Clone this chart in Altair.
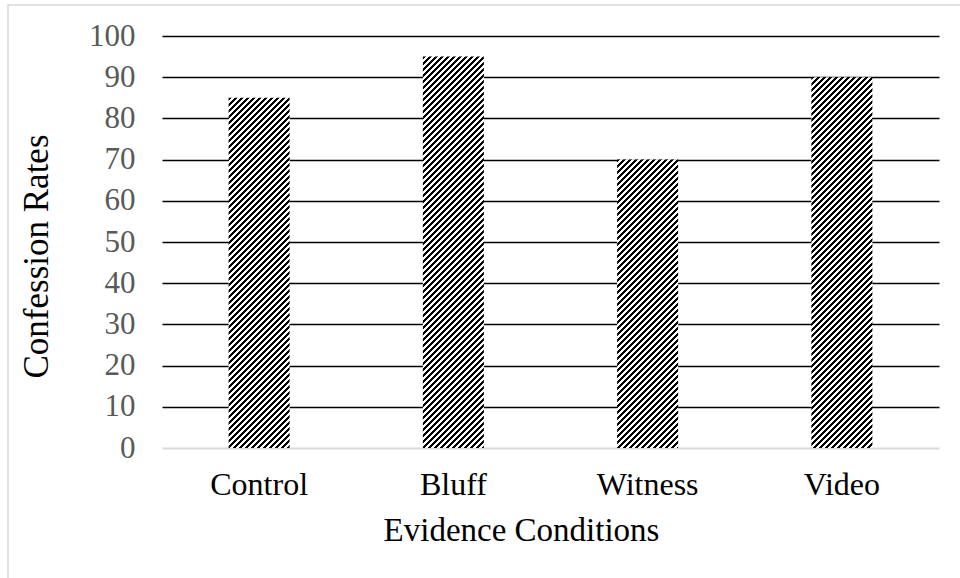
import math
import altair as alt
import pandas as pd

# ---- data ----
categories = ["Control", "Bluff", "Witness", "Video"]
rates = [85, 95, 70, 90]
y_ticks = [0, 10, 20, 30, 40, 50, 60, 70, 80, 90, 100]

# ---- layout ----
W, H = 777, 412
PAD_L, PAD_T = 162, 36
INNER = 0.686
STEP = W / len(categories)
BAR_W = STEP * (1 - INNER)
FONT = "Liberation Serif"

df = pd.DataFrame({"cond": categories, "rate": rates})


def hatch(value, period=6):
    """Diagonal black/white stripes as a hard-stop linear gradient
    with an exact (integer pixel) horizontal period."""
    w = BAR_W
    h = value / 100.0 * H
    n = math.ceil((w + h) / period)
    L = n * period
    s = w * w + h * h
    x2 = w * L / s
    y2 = h * L / s
    stops = []
    for i in range(n):
        a = i / n
        b = (i + 0.5) / n
        c = (i + 1) / n
        stops += [
            {"offset": a, "color": "black"},
            {"offset": b, "color": "black"},
            {"offset": b, "color": "white"},
            {"offset": c, "color": "white"},
        ]
    return {"gradient": "linear", "x1": 0, "y1": 0, "x2": x2, "y2": y2, "stops": stops}


x_enc = alt.X(
    "cond:N",
    sort=categories,
    scale=alt.Scale(domain=categories, paddingInner=INNER, paddingOuter=INNER / 2),
    axis=alt.Axis(
        title="Evidence Conditions",
        domain=False,
        ticks=False,
        grid=False,
        labelAngle=0,
        labelPadding=21,
        labelColor="black",
        labelFontSize=32,
        titleFontSize=33,
        titleX=359,
        titleY=82,
        titleBaseline="middle",
    ),
)
y_enc = alt.Y(
    "rate:Q",
    scale=alt.Scale(domain=[0, 100], nice=False),
    axis=alt.Axis(
        title="Confession Rates",
        values=y_ticks,
        domain=False,
        ticks=False,
        labelPadding=27,
        labelColor="#595959",
        labelFontSize=31,
        titleFontSize=35,
        grid=True,
        gridColor={"condition": {"test": "datum.value === 0", "value": "#d9d9d9"}, "value": "black"},
        gridWidth={"condition": {"test": "datum.value === 0", "value": 2}, "value": 1.6},
        titleX=-126,
        titleY=220,
        titleBaseline="middle",
        titleAngle=-90,
    ),
)

frame = alt.Chart(pd.DataFrame({"a": [0]})).mark_rect(
    fillOpacity=0, stroke="#d9d9d9", strokeWidth=1.5
).encode(
    x=alt.value(8 - PAD_L),
    x2=alt.value(W + 80),
    y=alt.value(5 - PAD_T),
    y2=alt.value(H + 200),
)

layers = [frame]
for cat, val in zip(categories, rates):
    layers.append(
        alt.Chart(df)
        .transform_filter(alt.datum.cond == cat)
        .mark_bar(fill=hatch(val), stroke=None)
        .encode(x=x_enc, y=y_enc)
    )

chart = (
    alt.layer(*layers)
    .properties(
        width=W,
        height=H,
        autosize=alt.AutoSizeParams(type="none"),
        padding={"left": PAD_L, "top": PAD_T, "right": 960 - PAD_L - W, "bottom": 578 - PAD_T - H},
        background="white",
    )
    .configure_view(stroke=None)
    .configure_axis(
        labelFont=FONT,
        titleFont=FONT,
        titleFontWeight="normal",
        titleColor="black",
    )
)

chart.save("out.html", embed_options={"renderer": "svg", "actions": False})
